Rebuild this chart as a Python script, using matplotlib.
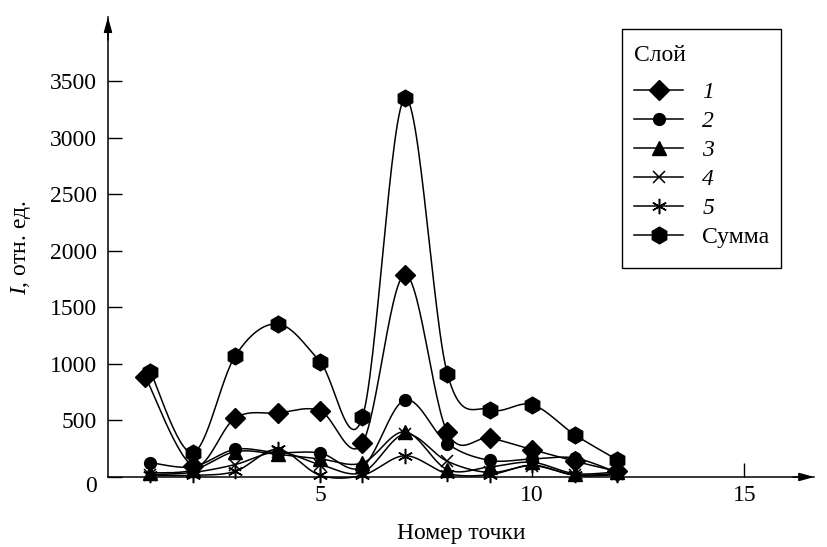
import numpy as np
import matplotlib.pyplot as plt
import matplotlib.transforms as mtransforms
from matplotlib.offsetbox import DrawingArea

plt.rcParams['font.family'] = ['Liberation Serif', 'DejaVu Serif']
plt.rcParams['mathtext.fontset'] = 'custom'
plt.rcParams['mathtext.it'] = 'Liberation Serif:italic'
plt.rcParams['mathtext.rm'] = 'Liberation Serif'

# номера точек
points = list(range(1, 13))
points_layer1 = [0.88] + points[1:]

layer1 = [888, 100, 522, 566, 587, 300, 1790, 395, 345, 242, 140, 50]
layer2 = [127, 90, 245, 215, 212, 90, 681, 295, 147, 160, 168, 40]
layer3 = [35, 60, 224, 200, 160, 124, 400, 65, 89, 130, 30, 45]
layer4 = [20, 40, 110, 220, 110, 40, 380, 139, 40, 100, 20, 30]
layer5 = [15, 15, 50, 245, 15, 15, 188, 30, 20, 105, 15, 20]
total = [932, 215, 1071, 1354, 1020, 531, 3350, 915, 596, 640, 375, 153]

labels = ['1', '2', '3', '4', '5', 'Сумма']


def smooth(x, y, n=30):
    # сглаживание кубическими кривыми Безье (как в Excel)
    x = np.asarray(x, float)
    y = np.asarray(y, float)
    px = np.concatenate([[x[0]], x, [x[-1]]])
    py = np.concatenate([[y[0]], y, [y[-1]]])
    xs, ys = [], []
    t = np.linspace(0, 1, n)
    for i in range(1, len(px) - 2):
        p0 = np.array([px[i], py[i]])
        p3 = np.array([px[i + 1], py[i + 1]])
        c1 = p0 + (p3 - np.array([px[i - 1], py[i - 1]])) / 6
        c2 = p3 - (np.array([px[i + 2], py[i + 2]]) - p0) / 6
        b = ((1 - t) ** 3)[:, None] * p0 + (3 * (1 - t) ** 2 * t)[:, None] * c1 \
            + (3 * (1 - t) * t ** 2)[:, None] * c2 + (t ** 3)[:, None] * p3
        xs.append(b[:, 0])
        ys.append(b[:, 1])
    return np.concatenate(xs), np.concatenate(ys)


fig = plt.figure(figsize=(8.28, 5.47), dpi=100)
ax = fig.add_axes([0.1304, 0.128, 0.853, 0.841])

series = [
    (points_layer1, layer1, dict(marker='D', ms=10.5)),
    (points, layer2, dict(marker='o', ms=8.5)),
    (points, layer3, dict(marker='^', ms=9.5)),
    (points, layer4, dict(marker='x', ms=9, mew=1.1)),
    (points, layer5, dict(marker=(6, 2, 0), ms=11, mew=1.1)),
    (points, total, dict(marker='h', ms=12)),
]

handles = []
for (xv, yv, mk), lab in zip(series, labels):
    sx, sy = smooth(xv, yv)
    ax.plot(sx, sy, color='black', lw=1.1, clip_on=False)
    ax.plot(xv, yv, ls='none', color='black', clip_on=False, **mk)
    h, = ax.plot([], [], color='black', lw=1.1, **mk)
    handles.append(h)

ax.set_xlim(0, 16.65)
ax.set_ylim(0, 4070)
ax.set_xticks([5, 10, 15])
ax.set_yticks(range(0, 4000, 500))
ax.tick_params(direction='in', length=10, width=1, labelsize=17, pad=6)
ax.tick_params(axis='y', pad=8)

# подпись «0» чуть ниже оси
zero = ax.yaxis.get_major_ticks()[0].label1
zero.set_transform(zero.get_transform() +
                   mtransforms.ScaledTranslation(0, -7 / 100, fig.dpi_scale_trans))

for s in ['top', 'right']:
    ax.spines[s].set_visible(False)
for s in ['left', 'bottom']:
    ax.spines[s].set_linewidth(1.1)

# стрелки на концах осей
ax.annotate('', xy=(1, 0), xytext=(0.97, 0), xycoords='axes fraction',
            arrowprops=dict(arrowstyle='-|>,head_length=0.9,head_width=0.25',
                            color='black', lw=1.1, shrinkA=0, shrinkB=0))
ax.annotate('', xy=(0, 1), xytext=(0, 0.95), xycoords='axes fraction',
            arrowprops=dict(arrowstyle='-|>,head_length=0.9,head_width=0.25',
                            color='black', lw=1.1, shrinkA=0, shrinkB=0))

ax.set_xlabel('Номер точки', fontsize=17, labelpad=12)
ax.set_ylabel(r'$\mathit{I}$, отн. ед.', fontsize=17, labelpad=12)

leg = ax.legend(handles, labels, title='Слой', loc='upper left',
                bbox_to_anchor=(622 / 828, 1 - 29 / 547), bbox_transform=fig.transFigure,
                borderaxespad=0, fontsize=17, title_fontsize=17, fancybox=False,
                framealpha=1, edgecolor='black', numpoints=1, handlelength=2.1,
                labelspacing=0.32, borderpad=0.5, handletextpad=0.8)
# отступы сверху, после заголовка и внизу рамки
box = leg._legend_box
title_box, handle_box = box.get_children()
box._children = [DrawingArea(1, 3), title_box, DrawingArea(1, 11), handle_box,
                 DrawingArea(1, 6)]
box.sep = 0
box.align = 'left'
leg.get_frame().set_linewidth(1.0)
for t in leg.get_texts()[:5]:
    t.set_style('italic')

fig.savefig('out.png', dpi=100)
